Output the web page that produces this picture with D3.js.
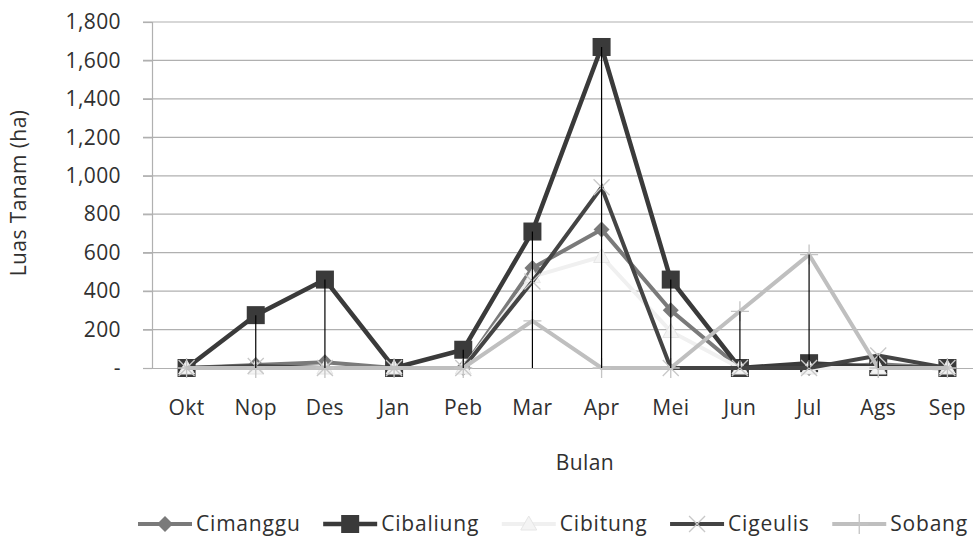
<!DOCTYPE html>
<html>
<head>
<meta charset="utf-8">
<script src="https://cdn.jsdelivr.net/npm/d3@7"></script>
<style>
  body { margin: 0; background: #fff; }
  svg text { font-family: "Open Sans", sans-serif; fill: #303030; }
</style>
</head>
<body>
<svg class="chart" width="973" height="539"></svg>
<script>
// data (ha)
const months = ["Okt", "Nop", "Des", "Jan", "Peb", "Mar", "Apr", "Mei", "Jun", "Jul", "Ags", "Sep"];
const cimanggu  = [0, 15, 30, 0, 0, 520, 720, 300, 0, 0, 20, 0];
const cibaliung = [0, 275, 460, 0, 95, 710, 1670, 460, 0, 25, 5, 0];
const cibitung  = [0, 0, 0, 0, 0, 475, 580, 190, 0, 0, 0, 0];
const cigeulis  = [0, 10, 0, 0, 0, 450, 940, 0, 0, 0, 65, 0];
const sobang    = [0, 0, 0, 0, 0, 245, 0, 0, 295, 590, 0, 0];
const yTicks = [0, 200, 400, 600, 800, 1000, 1200, 1400, 1600, 1800];

const series = [
    {name: "Cimanggu",  values: cimanggu,  line: "#7a7a7a", width: 4,   marker: "diamond"},
    {name: "Cibaliung", values: cibaliung, line: "#3a3a3a", width: 4.5, marker: "square"},
    {name: "Cibitung",  values: cibitung,  line: "#f0f0f0", width: 4,   marker: "triangle"},
    {name: "Cigeulis",  values: cigeulis,  line: "#444444", width: 4,   marker: "cross"},
    {name: "Sobang",    values: sobang,    line: "#bfbfbf", width: 4,   marker: "plus"}
];

const margin = {top: 22, left: 152};
const plotW = 830, plotH = 346;

const svg = d3.select(".chart");
const g = svg.append("g").attr("transform", `translate(${margin.left},${margin.top})`);

const x = d3.scaleBand().domain(months).range([0, plotW]);
const y = d3.scaleLinear().domain([0, 1800]).range([plotH, 0]);
const cx = d => x(d) + x.bandwidth() / 2;

// gridlines
g.selectAll(".grid")
    .data(yTicks.filter(t => t > 0))
    .enter().append("line")
    .attr("x1", -9).attr("x2", plotW)
    .attr("y1", d => y(d)).attr("y2", d => y(d))
    .attr("stroke", "#b0b0b0").attr("stroke-width", 1.2);

// y axis
const yAxis = g.append("g")
    .call(d3.axisLeft(y).tickValues(yTicks).tickSize(9).tickPadding(22)
        .tickFormat(d => d === 0 ? "-" : d3.format(",")(d)));
yAxis.select(".domain").attr("stroke", "#b0b0b0").attr("stroke-width", 1.2);
yAxis.selectAll(".tick line").attr("stroke", "#b0b0b0").attr("stroke-width", 1.2);
yAxis.selectAll(".tick text").style("font-size", "21px").attr("fill", "#303030")
    .style("letter-spacing", "0.4px");

// x axis
const xAxis = g.append("g")
    .attr("transform", `translate(0,${plotH})`)
    .call(d3.axisBottom(x).tickSize(0).tickPadding(32));
xAxis.select(".domain").attr("stroke", "#b0b0b0").attr("stroke-width", 1.2);
xAxis.selectAll(".tick text").style("font-size", "21px").attr("fill", "#303030")
    .style("letter-spacing", "0.4px");

// axis titles
svg.append("text")
    .attr("transform", "translate(26,193) rotate(-90)")
    .attr("text-anchor", "middle")
    .style("font-size", "21px")
    .style("letter-spacing", "0.4px")
    .text("Luas Tanam (ha)");

svg.append("text")
    .attr("x", 585).attr("y", 470)
    .attr("text-anchor", "middle")
    .style("font-size", "21px")
    .style("letter-spacing", "0.4px")
    .text("Bulan");

// markers
function drawMarker(sel, type) {
    if (type === "diamond") {
        sel.append("path").attr("d", "M0,-8L8,0L0,8L-8,0Z").attr("fill", "#7a7a7a");
    } else if (type === "square") {
        sel.append("rect").attr("x", -9).attr("y", -9).attr("width", 18).attr("height", 18)
            .attr("fill", "#3a3a3a");
    } else if (type === "triangle") {
        sel.append("path").attr("d", "M0,-8L8,6L-8,6Z").attr("fill", "#f4f4f4").attr("stroke", "#e6e6e6");
    } else if (type === "cross") {
        sel.append("path").attr("d", "M-8,-8L8,8M-8,8L8,-8")
            .attr("stroke", "#c8c8c8").attr("stroke-width", 1.3).attr("fill", "none");
    } else if (type === "plus") {
        sel.append("path").attr("d", "M0,-10L0,10M-9,0L9,0")
            .attr("stroke", "#c4c4c4").attr("stroke-width", 1.3).attr("fill", "none");
    }
}

const line = d3.line().x((d, i) => cx(months[i])).y(d => y(d));

series.forEach(s => {
    const sg = g.append("g");
    sg.append("path")
        .datum(s.values)
        .attr("d", line)
        .attr("fill", "none")
        .attr("stroke", s.line)
        .attr("stroke-width", s.width)
        .attr("stroke-linejoin", "miter");
    sg.selectAll(".pt")
        .data(s.values)
        .enter().append("g")
        .attr("transform", (d, i) => `translate(${cx(months[i])},${y(d)})`)
        .each(function() { drawMarker(d3.select(this), s.marker); });
});

// drop lines from the highest value in each month
const maxVals = months.map((m, i) => d3.max(series, s => s.values[i]));
g.selectAll(".drop")
    .data(maxVals)
    .enter().append("line")
    .attr("x1", (d, i) => cx(months[i])).attr("x2", (d, i) => cx(months[i]))
    .attr("y1", d => y(d)).attr("y2", y(0))
    .attr("stroke", "#000").attr("stroke-width", 1.2);

// legend, spread between x=138 and x=968
const legend = svg.append("g").attr("transform", "translate(0,524)");
const items = legend.selectAll(".item").data(series).enter().append("g");
items.append("line")
    .attr("x1", 0).attr("x2", 54)
    .attr("stroke", d => d.line).attr("stroke-width", d => d.width);
items.append("g").attr("transform", "translate(27,0)")
    .each(function(d) { drawMarker(d3.select(this), d.marker); });
items.append("text")
    .attr("x", 58).attr("dy", "0.35em")
    .style("font-size", "21px")
    .style("letter-spacing", "0.8px")
    .text(d => d.name);

let widths = [];
items.each(function() { widths.push(this.getBBox().width); });
const gap = (968 - 138 - d3.sum(widths)) / (widths.length - 1);
let pos = 138;
items.attr("transform", (d, i) => {
    const t = `translate(${pos},0)`;
    pos += widths[i] + gap;
    return t;
});
</script>
</body>
</html>
